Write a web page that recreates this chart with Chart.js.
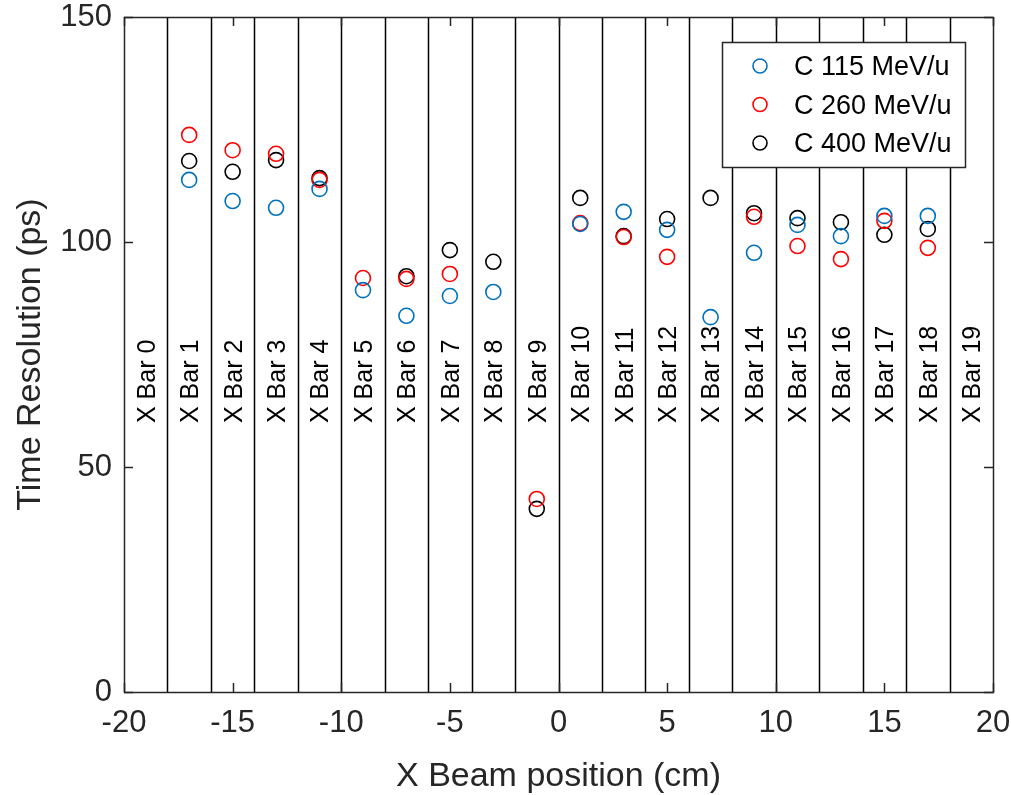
<!DOCTYPE html>
<html>
<head>
<meta charset="utf-8">
<script src="https://cdn.jsdelivr.net/npm/chart.js@4.4.1/dist/chart.umd.min.js"></script>
<style>
  html, body { margin: 0; padding: 0; background: #fff; }
  #wrap { width: 1011px; height: 795px; }
</style>
</head>
<body>
<div id="wrap"><canvas id="chart" width="1011" height="795"></canvas></div>
<script>
// Bar centres (cm) where points were measured
const positions = [-17, -15, -13, -11, -9, -7, -5, -3, -1, 1, 3, 5, 7, 9, 11, 13, 15, 17];

// Time resolution (ps) per beam energy
const c115 = [113.8, 109.1, 107.6, 111.8, 89.3, 83.6, 88.0, 88.9, null, 104.0, 106.7, 102.7, 83.3, 97.6, 103.8, 101.3, 105.8, 105.8];
const c260 = [123.8, 120.4, 119.6, 113.8, 92.0, 91.8, 92.9, null, 42.9, 104.2, 101.1, 96.7, null, 105.6, 99.1, 96.2, 104.7, 98.7];
const c400 = [118.0, 115.6, 118.2, 114.2, null, 92.4, 98.2, 95.6, 40.7, 109.8, 101.3, 105.1, 109.8, 106.4, 105.3, 104.4, 101.6, 102.9];

const seriesLabels = ['C 115 MeV/u', 'C 260 MeV/u', 'C 400 MeV/u'];
const seriesColors = ['#0072BD', '#FF0000', '#000000'];

// Bar boundaries and bar labels
const barEdges = [-18, -16, -14, -12, -10, -8, -6, -4, -2, 0, 2, 4, 6, 8, 10, 12, 14, 16, 18];
const barCentres = [-19, -17, -15, -13, -11, -9, -7, -5, -3, -1, 1, 3, 5, 7, 9, 11, 13, 15, 17, 19];
const barNames = barCentres.map((c, i) => 'X Bar ' + i);
const barLabelY = 60;

const xTicks = [-20, -15, -10, -5, 0, 5, 10, 15, 20];
const yTicks = [0, 50, 100, 150];

const FONT = '"Liberation Sans", Arial, Helvetica, sans-serif';
const TEXT = '#262626';

function toPoints(values) {
    return positions.map((x, i) => ({ x: x, y: values[i] })).filter(p => p.y !== null);
}

const datasets = [c115, c260, c400].map((vals, i) => ({
    label: seriesLabels[i],
    data: toPoints(vals),
    borderColor: seriesColors[i],
    backgroundColor: 'rgba(0,0,0,0)',
    pointStyle: 'circle',
    pointRadius: 7.5,
    pointBorderWidth: 1.6,
    showLine: false
}));

// Draws the bar lines, labels, frame, inward ticks and the legend box
const decorPlugin = {
    id: 'decor',
    beforeDatasetsDraw(chart) {
        const ctx = chart.ctx;
        const xs = chart.scales.x;
        const ys = chart.scales.y;
        const area = chart.chartArea;
        ctx.save();

        // bar boundaries
        ctx.strokeStyle = '#000';
        ctx.lineWidth = 1.5;
        barEdges.forEach(e => {
            const px = Math.round(xs.getPixelForValue(e)) + 0.5;
            ctx.beginPath();
            ctx.moveTo(px, area.top);
            ctx.lineTo(px, area.bottom);
            ctx.stroke();
        });

        // bar names, rotated
        ctx.fillStyle = '#000';
        ctx.font = '25px ' + FONT;
        ctx.textAlign = 'left';
        ctx.textBaseline = 'middle';
        barCentres.forEach((c, i) => {
            ctx.save();
            ctx.translate(xs.getPixelForValue(c), ys.getPixelForValue(barLabelY));
            ctx.rotate(-Math.PI / 2);
            ctx.fillText(barNames[i], -1, 2);
            ctx.restore();
        });

        // frame
        ctx.strokeStyle = TEXT;
        ctx.lineWidth = 1.5;
        ctx.strokeRect(area.left + 0.5, area.top + 0.5, area.right - area.left, area.bottom - area.top);

        // inward ticks
        const tl = 9;
        xTicks.forEach(t => {
            const px = Math.round(xs.getPixelForValue(t)) + 0.5;
            ctx.beginPath();
            ctx.moveTo(px, area.bottom); ctx.lineTo(px, area.bottom - tl);
            ctx.moveTo(px, area.top); ctx.lineTo(px, area.top + tl);
            ctx.stroke();
        });
        yTicks.forEach(t => {
            const py = Math.round(ys.getPixelForValue(t)) + 0.5;
            ctx.beginPath();
            ctx.moveTo(area.left, py); ctx.lineTo(area.left + tl, py);
            ctx.moveTo(area.right, py); ctx.lineTo(area.right - tl, py);
            ctx.stroke();
        });
        ctx.restore();
    },
    afterDatasetsDraw(chart) {
        const ctx = chart.ctx;
        const area = chart.chartArea;
        const boxW = 243, boxH = 125;
        const bx = area.right - 271, by = area.top + 25;
        ctx.save();
        ctx.fillStyle = '#fff';
        ctx.fillRect(bx, by, boxW, boxH);
        ctx.strokeStyle = TEXT;
        ctx.lineWidth = 1.5;
        ctx.strokeRect(bx + 0.5, by + 0.5, boxW, boxH);
        ctx.font = '27px ' + FONT;
        ctx.textAlign = 'left';
        ctx.textBaseline = 'middle';
        chart.data.datasets.forEach((ds, i) => {
            const cy = by + 24 + i * 38.5;
            ctx.beginPath();
            ctx.strokeStyle = ds.borderColor;
            ctx.lineWidth = 1.6;
            ctx.arc(bx + 38, cy, 7, 0, Math.PI * 2);
            ctx.stroke();
            ctx.fillStyle = '#000';
            ctx.fillText(ds.label, bx + 72, cy + 2);
        });
        ctx.restore();
    }
};

new Chart(document.getElementById('chart'), {
    type: 'scatter',
    data: { datasets: datasets },
    plugins: [decorPlugin],
    options: {
        responsive: false,
        animation: false,
        layout: { padding: { top: 17, right: 0, left: 0, bottom: 0 } },
        plugins: {
            legend: { display: false },
            tooltip: { enabled: false }
        },
        scales: {
            x: {
                type: 'linear',
                min: -20,
                max: 20,
                afterBuildTicks: s => { s.ticks = xTicks.map(v => ({ value: v })); },
                afterFit: s => { s.height = 103; s.paddingRight = 18; s.paddingLeft = 0; },
                grid: { display: false, drawTicks: false },
                border: { display: false },
                ticks: {
                    color: TEXT,
                    padding: 13,
                    font: { family: FONT, size: 31 }
                },
                title: {
                    display: true,
                    text: 'X Beam position (cm)',
                    color: TEXT,
                    font: { family: FONT, size: 34 },
                    padding: { top: 10, bottom: -2 }
                }
            },
            y: {
                type: 'linear',
                min: 0,
                max: 150,
                afterBuildTicks: s => { s.ticks = yTicks.map(v => ({ value: v })); },
                afterFit: s => { s.width = 124; s.paddingTop = 0; s.paddingBottom = 0; },
                grid: { display: false, drawTicks: false },
                border: { display: false },
                ticks: {
                    color: TEXT,
                    padding: 12,
                    font: { family: FONT, size: 31 }
                },
                title: {
                    display: true,
                    text: 'Time Resolution (ps)',
                    color: TEXT,
                    font: { family: FONT, size: 34 },
                    padding: { top: 10, bottom: 0 }
                }
            }
        }
    }
});
</script>
</body>
</html>
